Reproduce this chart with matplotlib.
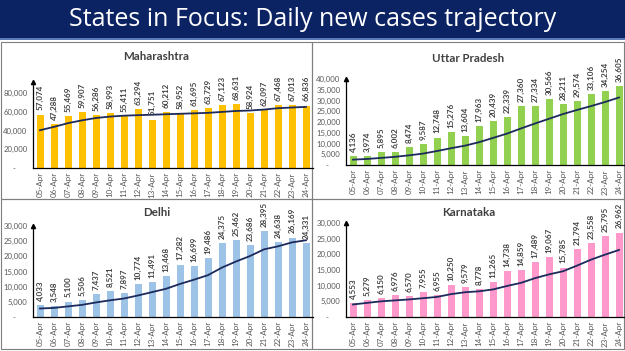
import matplotlib
matplotlib.use("Agg")
import matplotlib.pyplot as plt
from matplotlib.patches import Rectangle
import numpy as np

plt.rcParams['font.family'] = ['Lato', 'DejaVu Sans']

dates = ["05-Apr", "06-Apr", "07-Apr", "08-Apr", "09-Apr", "10-Apr", "11-Apr",
         "12-Apr", "13-Apr", "14-Apr", "15-Apr", "16-Apr", "17-Apr", "18-Apr",
         "19-Apr", "20-Apr", "21-Apr", "22-Apr", "23-Apr", "24-Apr"]

mh_cases = [57074, 47288, 55469, 59907, 56286, 58993, 55411, 63294, 51751, 60212,
            58952, 61695, 63729, 67123, 68631, 58924, 62097, 67468, 67013, 66836]
mh_trend = [40400, 44000, 48000, 51000, 53500, 55000, 56000, 56500, 57000, 57500,
            58000, 58500, 59000, 60000, 61000, 61500, 62500, 64000, 64700, 65400]

up_cases = [4136, 3974, 5895, 6002, 8474, 9587, 12748, 15276, 13604, 17963,
            20439, 22339, 27360, 27334, 30566, 28211, 29574, 33106, 34254, 36605]
up_trend = [2500, 2800, 3300, 3800, 4500, 5300, 6500, 7800, 9000, 10600,
            12600, 14600, 17000, 19300, 21500, 23700, 25600, 27400, 29300, 31400]

dl_cases = [4033, 3548, 5100, 5506, 7437, 8521, 7897, 10774, 11491, 13468,
            17282, 16699, 19486, 24375, 25462, 23686, 28395, 24638, 26169, 24331]
dl_trend = [2800, 3000, 3500, 4000, 4800, 5500, 6100, 7100, 8200, 9300,
            10900, 12300, 13800, 16300, 18300, 20100, 22300, 23300, 24600, 25300]

ka_cases = [4553, 5279, 6150, 6976, 6570, 7955, 6955, 10250, 9579, 8778,
            11265, 14738, 14859, 17489, 19067, 15785, 21794, 23558, 25795, 26962]
ka_trend = [4000, 4500, 5000, 5300, 5600, 6000, 6400, 7300, 7900, 8200,
            8800, 9900, 10900, 12400, 13600, 14600, 16400, 18300, 19900, 21400]

W, H = 625, 351
fig = plt.figure(figsize=(W / 100, H / 100), dpi=100)
fig.patch.set_facecolor('white')


def px_rect(left, top, right, bottom):
    return [left / W, 1 - bottom / H, (right - left) / W, (bottom - top) / H]


# banner
bg = fig.add_axes([0, 0, 1, 1], zorder=-5)
bg.set_xlim(0, W)
bg.set_ylim(H, 0)
bg.axis('off')
bg.add_patch(Rectangle((0, 0), W, 38, color='#0b2363', lw=0))
bg.add_patch(Rectangle((0, 38), W, 1.5, color='#5a7bb5', lw=0))
bg.text(W / 2, 20, "States in Focus: Daily new cases trajectory", color='white',
        fontsize=18, ha='center', va='center', family=['Open Sans', 'DejaVu Sans'])
# panel borders
for (x0, y0, x1, y1) in [(1, 42, 312, 199), (312, 42, 624, 199),
                         (1, 199, 312, 349), (312, 199, 624, 349)]:
    bg.add_patch(Rectangle((x0, y0), x1 - x0, y1 - y0, fill=False,
                           ec='#7f7f7f', lw=0.8))

panels = [
    ("Maharashtra", mh_cases, mh_trend, '#ffc000', (33, 82, 313, 168), 92000,
     [0, 20000, 40000, 60000, 80000], (156, 56)),
    ("Uttar Pradesh", up_cases, up_trend, '#92d050', (346, 79, 626, 165), 40000,
     list(range(0, 40001, 5000)), (468, 59)),
    ("Delhi", dl_cases, dl_trend, '#9dc3e6', (33, 226, 313, 317), 30000,
     list(range(0, 30001, 5000)), (157, 212)),
    ("Karnataka", ka_cases, ka_trend, '#ff99cc', (346, 223, 626, 317), 30000,
     list(range(0, 30001, 5000)), (469, 212)),
]

x = np.arange(len(dates))
for title, cases, trend, color, (l, t, r, b), ymax, yticks, (tx, ty) in panels:
    ax = fig.add_axes(px_rect(l, t, r, b))
    ax.set_facecolor('none')
    ax.bar(x, cases, width=0.5, color=color, zorder=2)
    ax.plot(x, trend, color='#1c2a5c', lw=1.3, zorder=3)
    ax.set_xlim(-0.5, len(dates) - 0.5)
    ax.set_ylim(0, ymax)
    ax.set_yticks(yticks)
    ax.set_yticklabels(['-      ' if v == 0 else f"{v:,}" for v in yticks],
                       fontsize=5.6, color='#595959')
    ax.set_xticks(x)
    ax.set_xticklabels(dates, rotation=90, fontsize=5.8, color='#595959')
    ax.tick_params(axis='y', length=0, pad=4)
    ax.tick_params(axis='x', length=0, pad=3)
    for s in ['top', 'right']:
        ax.spines[s].set_visible(False)
    ax.spines['left'].set_color('black')
    ax.spines['bottom'].set_color('black')
    ax.spines['left'].set_linewidth(0.9)
    ax.spines['bottom'].set_linewidth(0.9)
    ax.plot([0], [1], marker='^', transform=ax.transAxes, color='black',
            markersize=3, clip_on=False)
    for xi, v in zip(x, cases):
        ax.annotate(f"{v:,}", (xi, v), xytext=(0, 3), textcoords='offset points',
                    rotation=90, ha='center', va='bottom', fontsize=5.8,
                    fontweight='bold', color='#404040', annotation_clip=False)
    bg.text(tx, ty, title, fontsize=8.3, fontweight='bold', color='#404040',
            ha='center', va='center')

fig.savefig('out.png', dpi=100)
